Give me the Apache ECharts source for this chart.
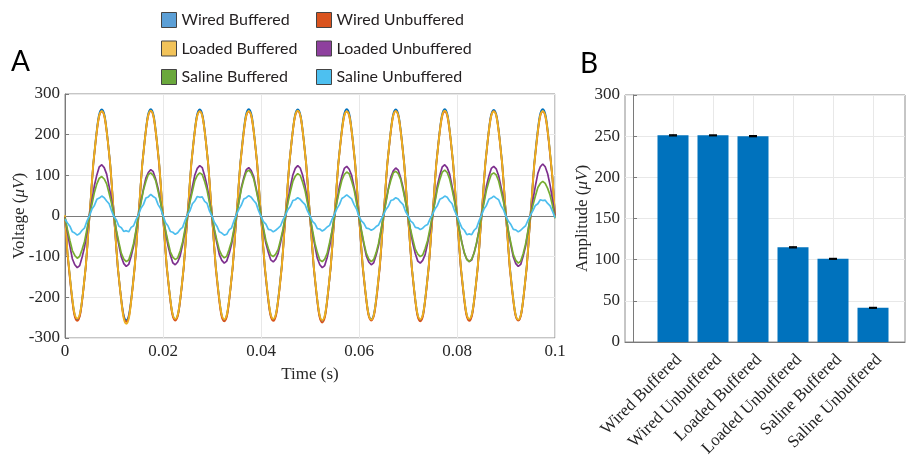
<!DOCTYPE html>
<html>
<head>
<meta charset="utf-8">
<script src="https://cdn.jsdelivr.net/npm/echarts@6/dist/echarts.min.js"></script>
<style>
html, body { margin: 0; padding: 0; background: #fff; }
#chart { width: 909px; height: 457px; }
</style>
</head>
<body>
<div id="chart"></div>
<script>
// ---- panel A: recorded voltage traces (uV) ----
// clean traces read every 1.25 ms, noisy traces every 0.5 ms
const coarseStep = 0.00125;
const fineStep = 0.0005;

const wiredBuffered = [
    0, -180, -255, -180, 0, 185, 262, 184,
    1, -181, -256, -179, 2, 184, 263, 185,
    0, -180, -254, -181, 1, 185, 262, 184,
    -1, -179, -256, -180, 0, 186, 263, 185,
    1, -181, -255, -179, 2, 184, 262, 184,
    0, -182, -258, -181, 1, 185, 263, 185,
    0, -180, -254, -180, 0, 184, 262, 186,
    1, -181, -256, -179, 1, 185, 263, 184,
    0, -180, -255, -181, 0, 184, 261, 185,
    1, -179, -256, -180, 2, 186, 263, 184,
    0
];
const wiredUnbuffered = [
    -2, -183, -258, -182, -1, 182, 257, 182,
    -1, -182, -260, -183, 0, 183, 258, 181,
    -2, -182, -257, -183, -1, 182, 258, 183,
    -1, -184, -259, -182, 0, 181, 257, 182,
    -2, -182, -258, -183, -1, 183, 258, 182,
    -1, -183, -262, -182, 0, 182, 257, 181,
    -2, -182, -257, -184, -1, 182, 258, 183,
    -1, -183, -259, -182, 0, 183, 257, 182,
    -2, -182, -258, -183, -1, 182, 258, 182,
    -1, -184, -257, -182, 0, 181, 257, 181,
    -2
];
const loadedBuffered = [
    2, -178, -252, -180, 1, 184, 258, 183,
    1, -181, -265, -182, 2, 183, 259, 184,
    2, -179, -253, -180, 1, 184, 257, 183,
    1, -180, -254, -179, 2, 183, 258, 184,
    2, -178, -253, -181, 1, 184, 259, 183,
    1, -180, -256, -180, 2, 183, 257, 184,
    2, -179, -255, -179, 1, 184, 258, 183,
    1, -180, -254, -180, 2, 183, 259, 184,
    2, -178, -253, -181, 1, 184, 257, 183,
    1, -180, -255, -180, 2, 183, 258, 184,
    1
];
const loadedUnbuffered = [
    -3, -40, -74, -105, -120, -127, -122, -101, -76, -38, 2, 38, 75, 101, 121, 126, 119, 103, 73, 40,
    1, -39, -72, -101, -117, -124, -119, -99, -74, -37, 2, 36, 66, 93, 107, 114, 109, 91, 68, 34,
    -1, -36, -72, -96, -115, -120, -113, -98, -70, -38, 1, 39, 72, 101, 117, 124, 119, 99, 74, 37,
    0, -37, -67, -95, -109, -116, -111, -93, -69, -35, 2, 36, 71, 95, 114, 119, 112, 97, 69, 38,
    1, -34, -67, -90, -108, -113, -106, -92, -65, -36, 0, 39, 72, 101, 117, 124, 118, 100, 74, 37,
    -1, -40, -74, -104, -120, -127, -122, -102, -76, -38, 1, 37, 73, 98, 117, 122, 115, 100, 71, 39,
    0, -38, -70, -98, -113, -120, -115, -96, -72, -36, 2, 37, 68, 96, 111, 118, 113, 94, 70, 36,
    1, -35, -69, -93, -111, -116, -109, -95, -67, -37, 1, 38, 75, 101, 121, 126, 119, 103, 73, 40,
    -1, -36, -65, -92, -106, -112, -108, -90, -67, -34, 2, 37, 73, 98, 117, 122, 116, 99, 71, 39,
    0, -39, -72, -101, -117, -124, -119, -99, -74, -37, 1, 40, 74, 105, 121, 128, 121, 104, 76, 39,
    2
];
const salineBuffered = [
    -4, -33, -60, -85, -97, -104, -99, -82, -62, -31, 1, 29, 58, 79, 93, 97, 91, 79, 56, 31,
    1, -36, -65, -92, -106, -112, -108, -90, -67, -34, 2, 32, 63, 85, 102, 106, 100, 87, 61, 34,
    -1, -34, -62, -88, -101, -107, -103, -86, -64, -32, 1, 34, 61, 87, 100, 106, 102, 85, 63, 32,
    0, -33, -60, -84, -97, -103, -99, -82, -62, -31, 2, 35, 67, 90, 108, 113, 106, 92, 65, 36,
    1, -30, -60, -80, -96, -100, -94, -82, -58, -32, 1, 33, 60, 85, 98, 104, 100, 83, 62, 31,
    -1, -34, -67, -90, -108, -112, -106, -92, -65, -36, 1, 34, 63, 88, 102, 108, 104, 86, 65, 32,
    0, -35, -66, -92, -106, -112, -107, -90, -67, -34, 2, 33, 66, 88, 106, 110, 104, 90, 64, 35,
    1, -32, -58, -82, -94, -100, -96, -80, -60, -30, 2, 34, 67, 90, 108, 113, 107, 91, 65, 36,
    -1, -34, -67, -90, -107, -112, -106, -91, -65, -36, 1, 32, 63, 85, 102, 106, 101, 86, 61, 34,
    0, -37, -67, -95, -109, -116, -111, -93, -69, -35, 1, 27, 49, 70, 80, 85, 80, 68, 51, 25,
    -6
];
const salineUnbuffered = [
    -8, -17, -25, -39, -42, -47, -43, -35, -29, -12, 1, 17, 26, 41, 44, 49, 45, 37, 30, 13,
    -2, -10, -25, -29, -38, -36, -39, -28, -24, -9, 3, 19, 28, 44, 47, 53, 48, 44, 28, 18,
    2, -16, -24, -38, -40, -45, -41, -33, -28, -11, 3, 13, 30, 37, 48, 46, 47, 36, 31, 12,
    0, -16, -25, -39, -42, -47, -45, -34, -29, -11, 4, 17, 27, 42, 45, 50, 46, 38, 31, 13,
    -1, -14, -20, -33, -34, -39, -35, -30, -24, -9, 2, 16, 24, 38, 40, 45, 41, 34, 28, 12,
    1, -13, -19, -31, -32, -37, -33, -27, -23, -8, 4, 18, 28, 43, 47, 52, 47, 42, 28, 17,
    -1, -12, -18, -30, -31, -35, -32, -26, -22, -9, 3, 16, 24, 38, 40, 45, 42, 34, 28, 11,
    1, -12, -17, -28, -29, -33, -30, -24, -21, -7, 4, 17, 26, 41, 44, 49, 46, 37, 30, 13,
    0, -15, -29, -35, -46, -44, -46, -35, -29, -12, 2, 17, 26, 41, 44, 49, 44, 40, 25, 15,
    -1, -13, -21, -33, -34, -39, -35, -29, -24, -10, 2, 13, 26, 30, 40, 38, 39, 31, 25, 11,
    -4
];

const seriesNames = ['Wired Buffered', 'Wired Unbuffered', 'Loaded Buffered',
    'Loaded Unbuffered', 'Saline Buffered', 'Saline Unbuffered'];
const lineColors = ['#0072BD', '#D95319', '#EDB120', '#7E2F8E', '#77AC30', '#4DBEEE'];
const legendColors = ['#5B9FD6', '#D9531E', '#F2C35A', '#8E409E', '#6AA83C', '#4DC0F0'];

// ---- panel B: mean amplitude per condition (uV) ----
const barCategories = seriesNames;
const barAmplitude = [251, 251, 250, 115, 101, 41.5];
const barError = [0.6, 0.5, 0.6, 0.6, 0.5, 0.5];

const serif = '"Liberation Serif", "DejaVu Serif", serif';
const sans = 'Lato, "Open Sans", sans-serif';

function toPairs(values, step) {
    return values.map((v, i) => [+(i * step).toFixed(5), v]);
}

const traces = [
    toPairs(wiredBuffered, coarseStep),
    toPairs(wiredUnbuffered, coarseStep),
    toPairs(loadedBuffered, coarseStep),
    toPairs(loadedUnbuffered, fineStep),
    toPairs(salineBuffered, fineStep),
    toPairs(salineUnbuffered, fineStep)
];

const chart = echarts.init(document.getElementById('chart'));

const axisLabelStyle = { color: '#262626', fontFamily: serif, fontSize: 17 };
const gridLine = { show: true, lineStyle: { color: '#e8e8e8', width: 1 } };
const axisLine = { show: true, lineStyle: { color: '#7a7a7a', width: 1 } };
const tick = { show: true, inside: true, length: 4, lineStyle: { color: '#7a7a7a' } };

function legendColumn(left, idx) {
    return {
        orient: 'vertical', left: left, top: 12, padding: 0, itemGap: 12.5,
        itemWidth: 15, itemHeight: 15, icon: 'rect', selectedMode: false,
        textStyle: { fontFamily: sans, fontSize: 16, color: '#231f20' },
        itemStyle: { borderColor: '#444', borderWidth: 1 },
        data: idx.map(i => ({ name: seriesNames[i], itemStyle: { color: legendColors[i] } }))
    };
}

function yName(text) {
    return {
        name: text, nameLocation: 'middle', nameMoveOverlap: false,
        nameTextStyle: {
            fontFamily: serif, fontSize: 17, color: '#262626',
            rich: { i: { fontFamily: serif, fontSize: 17, fontStyle: 'italic', color: '#262626' } }
        }
    };
}

chart.setOption({
    animation: false,
    backgroundColor: '#fff',
    graphic: [
        { type: 'text', left: 11, top: 48, style: { text: 'A', font: '28px ' + sans, fill: '#000' } },
        { type: 'text', left: 580, top: 50, style: { text: 'B', font: '28px ' + sans, fill: '#000' } }
    ],
    legend: [legendColumn(161, [0, 2, 4]), legendColumn(316, [1, 3, 5])],
    grid: [
        { left: 65, right: 354, top: 94, bottom: 119, outerBoundsMode: 'none', containLabel: false,
          show: true, borderColor: '#8c8c8c', borderWidth: 1 },
        { left: 625, right: 4, top: 95, bottom: 115, outerBoundsMode: 'none', containLabel: false,
          show: true, borderColor: '#8c8c8c', borderWidth: 1 }
    ],
    xAxis: [
        {
            gridIndex: 0, type: 'value', min: 0, max: 0.1, interval: 0.02,
            name: 'Time (s)', nameLocation: 'middle', nameGap: 28, nameMoveOverlap: false,
            nameTextStyle: { fontFamily: serif, fontSize: 17, color: '#262626' },
            axisLine: axisLine,
            axisTick: tick,
            axisLabel: Object.assign({ margin: 5, formatter: v => String(+v.toFixed(2)) }, axisLabelStyle),
            splitLine: gridLine
        },
        {
            gridIndex: 1, type: 'value', min: -0.2, max: 6.8,
            axisLine: axisLine,
            axisTick: Object.assign({ customValues: [1, 2, 3, 4, 5, 6] }, tick),
            axisLabel: Object.assign({
                margin: 9, rotate: 45, verticalAlign: 'top', customValues: [1, 2, 3, 4, 5, 6],
                formatter: v => barCategories[Math.round(v) - 1]
            }, axisLabelStyle),
            splitLine: gridLine
        }
    ],
    yAxis: [
        Object.assign(yName('Voltage ({i|μV})'), {
            gridIndex: 0, type: 'value', min: -300, max: 300, interval: 100, nameGap: 37,
            axisLine: axisLine,
            axisTick: tick,
            axisLabel: Object.assign({ margin: 5 }, axisLabelStyle),
            splitLine: gridLine
        }),
        Object.assign(yName('Amplitude ({i|μV})'), {
            gridIndex: 1, type: 'value', min: 0, max: 300, interval: 50, nameGap: 34,
            axisLine: axisLine,
            axisTick: tick,
            axisLabel: Object.assign({ margin: 5 }, axisLabelStyle),
            splitLine: gridLine
        })
    ],
    series: seriesNames.map((name, i) => ({
        name: name,
        type: 'line',
        xAxisIndex: 0,
        yAxisIndex: 0,
        data: traces[i],
        smooth: i < 3 ? 0.5 : false,
        showSymbol: false,
        color: lineColors[i],
        lineStyle: { color: lineColors[i], width: i < 3 ? 1.8 : 1.7 },
        emphasis: { disabled: true }
    })).concat([
        {
            name: 'Amplitude',
            type: 'bar',
            xAxisIndex: 1,
            yAxisIndex: 1,
            barWidth: 31,
            data: barAmplitude.map((v, i) => [i + 1, v]),
            itemStyle: { color: '#0072BD' },
            emphasis: { disabled: true }
        },
        {
            name: 'Error',
            type: 'custom',
            xAxisIndex: 1,
            yAxisIndex: 1,
            z: 5,
            data: barAmplitude.map((v, i) => [i + 1, v, barError[i]]),
            renderItem: function (params, api) {
                const x = api.value(0);
                const y = api.value(1);
                const e = api.value(2);
                const top = api.coord([x, y + e]);
                const bot = api.coord([x, y - e]);
                const hw = 4;
                const st = { stroke: '#000', lineWidth: 1.3 };
                return {
                    type: 'group',
                    children: [
                        { type: 'line', shape: { x1: top[0], y1: top[1], x2: bot[0], y2: bot[1] }, style: st },
                        { type: 'line', shape: { x1: top[0] - hw, y1: top[1], x2: top[0] + hw, y2: top[1] }, style: st },
                        { type: 'line', shape: { x1: bot[0] - hw, y1: bot[1], x2: bot[0] + hw, y2: bot[1] }, style: st }
                    ]
                };
            }
        }
    ])
});
</script>
</body>
</html>
